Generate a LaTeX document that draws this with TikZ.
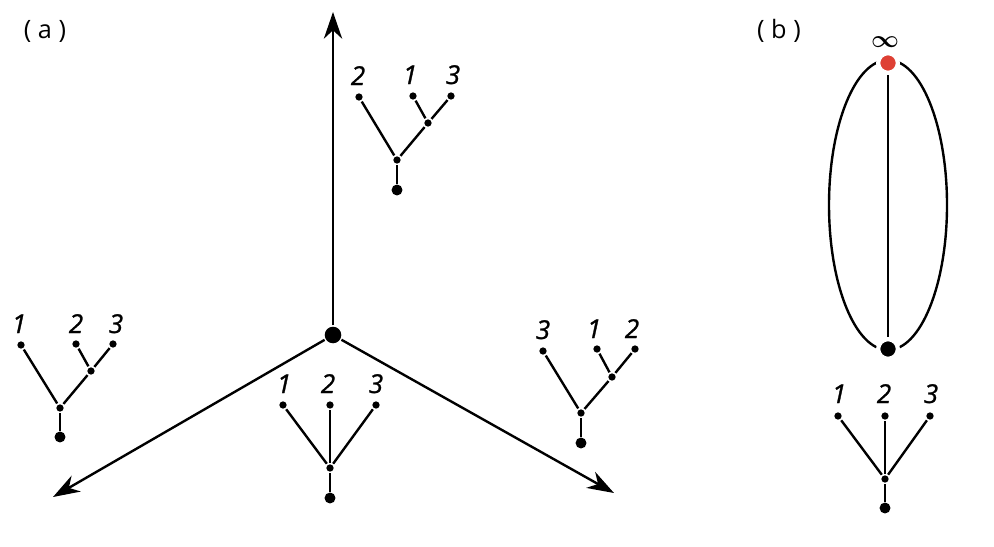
\documentclass[tikz,border=0pt]{standalone}
\usepackage{fontspec}
\setmainfont{Open Sans}
\newfontfamily\lblfont[RawFeature={embolden=1.2}]{Open Sans}
\usetikzlibrary{arrows.meta}
\begin{document}
\begin{tikzpicture}[x=0.25mm,y=-0.25mm,line width=1.7pt,
	leaf/.style={circle,fill=black,inner sep=0pt,minimum size=5.2pt,outer sep=1.2pt},
	rootdot/.style={circle,fill=black,inner sep=0pt,minimum size=7.8pt,outer sep=0.4pt},
	hub/.style={circle,fill=black,inner sep=0pt,minimum size=11.8pt,outer sep=1pt},
	bigdot/.style={circle,draw=white,line width=3pt,inner sep=0pt,minimum size=14pt},
	lbl/.style={anchor=base,inner sep=0pt,font=\lblfont\fontsize{18.5}{20}\selectfont\itshape},
	tag/.style={inner sep=0pt,font=\fontsize{18}{20}\selectfont},
	axis/.style={-{Stealth[length=19pt,width=13pt,inset=6pt]}}]

		\definecolor{infRed}{RGB}{222,64,52}

		\useasboundingbox (0,0) rectangle (994,546);

		% (a)
		\node[tag] (tagA) at (45,31) {( a )};

		\node[hub] (o) at (333,335) {};
		\coordinate (upEnd) at (333,12);
		\coordinate (leftEnd) at (53,497);
		\coordinate (rightEnd) at (614,493);
		\draw[axis] (o) -- (upEnd);
		\draw[axis] (o) -- (leftEnd);
		\draw[axis] (o) -- (rightEnd);

		% top tree: 2 (1 3)
		\node[leaf] (t2) at (359,97) {};
		\node[leaf] (t1) at (413,96) {};
		\node[leaf] (t3) at (451,96) {};
		\node[leaf] (tIn) at (428,123) {};
		\node[leaf] (tJoin) at (397,160) {};
		\node[rootdot] (tRoot) at (397,190) {};
			\node[lbl] at (358,85) {2};
			\node[lbl] at (410,84) {1};
			\node[lbl] at (453,84) {3};
		\draw (t2) -- (tJoin);
		\draw (t1) -- (tIn);
		\draw (t3) -- (tIn);
		\draw (tIn) -- (tJoin);
		\draw (tJoin) -- (tRoot);

		% left tree: 1 (2 3)
		\node[leaf] (l1) at (21,345) {};
		\node[leaf] (l2) at (76,344) {};
		\node[leaf] (l3) at (113,344) {};
		\node[leaf] (lIn) at (91,371) {};
		\node[leaf] (lJoin) at (60,408) {};
		\node[rootdot] (lRoot) at (60,437) {};
			\node[lbl] at (19,333) {1};
			\node[lbl] at (76,333) {2};
			\node[lbl] at (116,333) {3};
		\draw (l1) -- (lJoin);
		\draw (l2) -- (lIn);
		\draw (l3) -- (lIn);
		\draw (lIn) -- (lJoin);
		\draw (lJoin) -- (lRoot);

		% right tree: 3 (1 2)
		\node[leaf] (r3) at (543,351) {};
		\node[leaf] (r1) at (597,349) {};
		\node[leaf] (r2) at (635,349) {};
		\node[leaf] (rIn) at (612,377) {};
		\node[leaf] (rJoin) at (581,413) {};
		\node[rootdot] (rRoot) at (581,443) {};
			\node[lbl] at (543,339) {3};
			\node[lbl] at (594,338) {1};
			\node[lbl] at (632,338) {2};
		\draw (r3) -- (rJoin);
		\draw (r1) -- (rIn);
		\draw (r2) -- (rIn);
		\draw (rIn) -- (rJoin);
		\draw (rJoin) -- (rRoot);

		% bottom tree: 1 2 3
		\node[leaf] (c1) at (283,405) {};
		\node[leaf] (c2) at (330,405) {};
		\node[leaf] (c3) at (376,405) {};
		\node[leaf] (cJoin) at (330,468) {};
		\node[rootdot] (cRoot) at (330,498) {};
			\node[lbl] at (284,393) {1};
			\node[lbl] at (328,393) {2};
			\node[lbl] at (376,393) {3};
		\draw (c1) -- (cJoin);
		\draw (c2) -- (cJoin);
		\draw (c3) -- (cJoin);
		\draw (cJoin) -- (cRoot);

		% (b)
		\node[tag] (tagB) at (779,31) {( b )};

		\coordinate (bCenter) at (888,205);
		\draw (bCenter) ellipse [x radius=59, y radius=145];
		\node[bigdot,fill=infRed] (inf) at (888,63) {};
		\node[bigdot,fill=black] (zero) at (888,349) {};
		\node[inner sep=0pt,font=\boldmath\fontsize{18}{20}\selectfont] (infLbl) at (885,42) {$\infty$};
		\draw (inf) -- (zero);

		\node[leaf] (b1) at (838,416) {};
		\node[leaf] (b2) at (885,416) {};
		\node[leaf] (b3) at (930,416) {};
		\node[leaf] (bJoin) at (885,479) {};
		\node[rootdot] (bRoot) at (885,508) {};
			\node[lbl] at (839,403) {1};
			\node[lbl] at (884,403) {2};
			\node[lbl] at (931,403) {3};
		\draw (b1) -- (bJoin);
		\draw (b2) -- (bJoin);
		\draw (b3) -- (bJoin);
		\draw (bJoin) -- (bRoot);

	\end{tikzpicture}
\end{document}
